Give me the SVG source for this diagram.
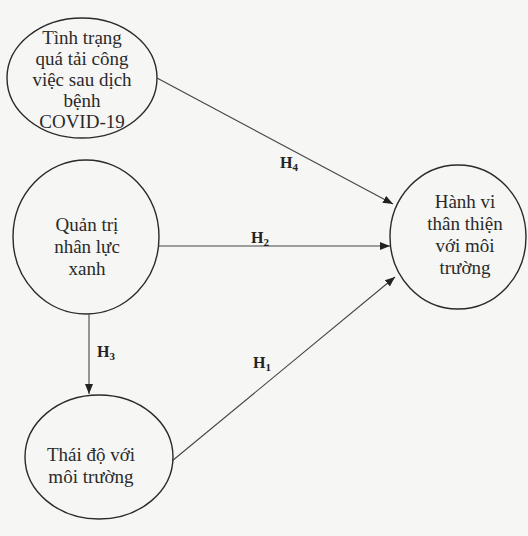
<svg xmlns="http://www.w3.org/2000/svg" width="528" height="536" viewBox="0 0 528 536">
<defs>
<marker id="arr" viewBox="0 0 10 10" refX="10" refY="5" markerWidth="10" markerHeight="10" markerUnits="userSpaceOnUse" orient="auto">
<path d="M0,1 L10,5 L0,9 Z" fill="#222"/>
</marker>
<style>
.node ellipse{fill:none;stroke:#2a2a2a;stroke-width:1.4}
.node text{font-family:"Liberation Serif","Times New Roman",serif;font-size:19px;fill:#2a2a2a;text-anchor:middle}
.conn line{stroke:#444;stroke-width:1.1;marker-end:url(#arr)}
.lbl{font-family:"Liberation Serif","Times New Roman",serif;font-size:16px;font-weight:bold;fill:#222}
.sub{font-size:11px}
</style>
</defs>
<rect width="528" height="536" fill="#f6f6f4"/>
<g id="n-covid" class="node">
<ellipse cx="82" cy="78" rx="75" ry="60"/>
<text x="82" y="44">Tình trạng</text>
<text x="82" y="65">quá tải công</text>
<text x="82" y="86">việc sau dịch</text>
<text x="82" y="107">bệnh</text>
<text x="82" y="128">COVID-19</text>
</g>
<g id="n-qtnl" class="node">
<ellipse cx="86" cy="237" rx="73" ry="77"/>
<text x="87" y="231">Quản trị</text>
<text x="87" y="253">nhân lực</text>
<text x="87" y="275">xanh</text>
</g>
<g id="n-thaido" class="node">
<ellipse cx="99" cy="457" rx="74" ry="62"/>
<text x="91" y="461">Thái độ với</text>
<text x="91" y="483">môi trường</text>
</g>
<g id="n-hanhvi" class="node">
<ellipse cx="458" cy="237" rx="68" ry="72"/>
<text x="465" y="208">Hành vi</text>
<text x="465" y="230">thân thiện</text>
<text x="465" y="252">với môi</text>
<text x="465" y="274">trường</text>
</g>
<g id="connectors" class="conn">
<line x1="157" y1="78" x2="393" y2="204"/>
<line x1="159" y1="246" x2="390" y2="246"/>
<line x1="89" y1="314" x2="89" y2="394"/>
<line x1="172" y1="461" x2="395" y2="277"/>
</g>
<g id="labels">
<text class="lbl" x="280" y="168">H<tspan class="sub" dy="3">4</tspan></text>
<text class="lbl" x="251" y="243">H<tspan class="sub" dy="3">2</tspan></text>
<text class="lbl" x="97" y="357">H<tspan class="sub" dy="3">3</tspan></text>
<text class="lbl" x="253" y="368">H<tspan class="sub" dy="3">1</tspan></text>
</g>
</svg>
